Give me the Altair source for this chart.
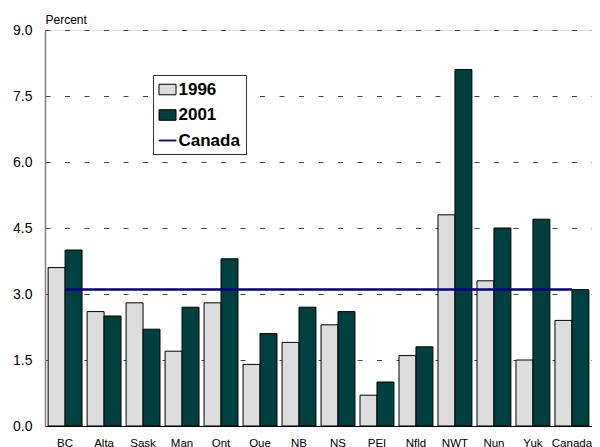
import altair as alt
import pandas as pd

provinces = ["BC", "Alta", "Sask", "Man", "Ont", "Que", "NB", "NS", "PEI",
             "Nfld", "NWT", "Nun", "Yuk", "Canada"]
values_1996 = [3.6, 2.6, 2.8, 1.7, 2.8, 1.4, 1.9, 2.3, 0.7, 1.6, 4.8, 3.3, 1.5, 2.4]
values_2001 = [4.0, 2.5, 2.2, 2.7, 3.8, 2.1, 2.7, 2.6, 1.0, 1.8, 8.1, 4.5, 4.7, 3.1]
canada_level = 3.1
y_ticks = [0.0, 1.5, 3.0, 4.5, 6.0, 7.5, 9.0]

series_names = ["1996", "2001", "Canada"]
fill_colors = ["#dddddd", "#004040", "#000080"]
stroke_colors = ["#000000", "#000000", "#000080"]
RECT = "M-1,-0.62H1V0.62H-1Z"
THIN = "M-1,-0.05H1V0.05H-1Z"
shapes = [RECT, RECT, THIN]

rows = []
for p, a, b in zip(provinces, values_1996, values_2001):
    rows.append({"prov": p, "series": "1996", "value": a})
    rows.append({"prov": p, "series": "2001", "value": b})
bars_df = pd.DataFrame(rows)
line_df = pd.DataFrame([{"start": provinces[0], "end": provinces[-1],
                         "value": canada_level, "series": "Canada"}])

FONT = "Liberation Sans"

x_scale = alt.Scale(domain=provinces, paddingInner=0.13, paddingOuter=0.08)
fill_scale = alt.Scale(domain=series_names, range=fill_colors)
stroke_scale = alt.Scale(domain=series_names, range=stroke_colors)
shape_scale = alt.Scale(domain=series_names, range=shapes)


def make_legend():
    return alt.Legend(
        title=None, orient="none", legendX=108, legendY=45,
        strokeColor="#333333", fillColor="#ffffff", padding=5.5,
        labelFont=FONT, labelFontSize=17, labelFontWeight="bold", labelColor="#000000",
        labelExpr="datum.label + '\u00a0\u00a0'",
        symbolSize=289, symbolOpacity=1, symbolStrokeWidth=1,
        rowPadding=8.5, labelOffset=2,
    )


bars = alt.Chart(bars_df).mark_bar(strokeWidth=1).encode(
    x=alt.X("prov:N", scale=x_scale, sort=provinces,
            axis=alt.Axis(title=None, labelAngle=0, ticks=False, domain=True,
                          domainColor="#000000", domainWidth=1,
                          labelFont=FONT, labelFontSize=11.5, labelColor="#000000",
                          labelPadding=11, grid=False)),
    xOffset=alt.XOffset("series:N", sort=["1996", "2001"]),
    y=alt.Y("value:Q", scale=alt.Scale(domain=[0, 9], nice=False),
            axis=alt.Axis(values=y_ticks, format=".1f", title="Percent",
                          titleAngle=0, titleX=0, titleY=-7, titleAlign="left",
                          titleBaseline="alphabetic", titleFont=FONT, titleFontSize=12,
                          titleFontWeight="normal", titleColor="#000000",
                          labelFont=FONT, labelFontSize=14, labelColor="#000000",
                          labelPadding=13, ticks=False,
                          domainColor="#808080", domainWidth=1.5,
                          grid=True, gridColor="#444444", gridDash=[5, 14.5],
                          gridWidth=1)),
    fill=alt.Fill("series:N", scale=fill_scale, legend=make_legend()),
    stroke=alt.Stroke("series:N", scale=stroke_scale, legend=make_legend()),
)

shape_layer = alt.Chart(bars_df).mark_point(opacity=0).encode(
    x=alt.X("prov:N", scale=x_scale, sort=provinces),
    y=alt.Y("value:Q"),
    shape=alt.Shape("series:N", scale=shape_scale, legend=make_legend()),
)

line = alt.Chart(line_df).mark_rule(strokeWidth=2.5).encode(
    x=alt.X("start:N", scale=x_scale, sort=provinces),
    x2="end:N",
    y=alt.Y("value:Q"),
    stroke=alt.Stroke("series:N", scale=stroke_scale, legend=make_legend()),
)

chart = alt.layer(bars, line, shape_layer).properties(
    width=547, height=396,
    autosize=alt.AutoSizeParams(type="none"),
    padding={"left": 37, "top": 22, "right": 0, "bottom": 21},
).configure_view(stroke=None).configure(background="#ffffff")

chart.save("out.html", embed_options={"renderer": "svg", "actions": False})
